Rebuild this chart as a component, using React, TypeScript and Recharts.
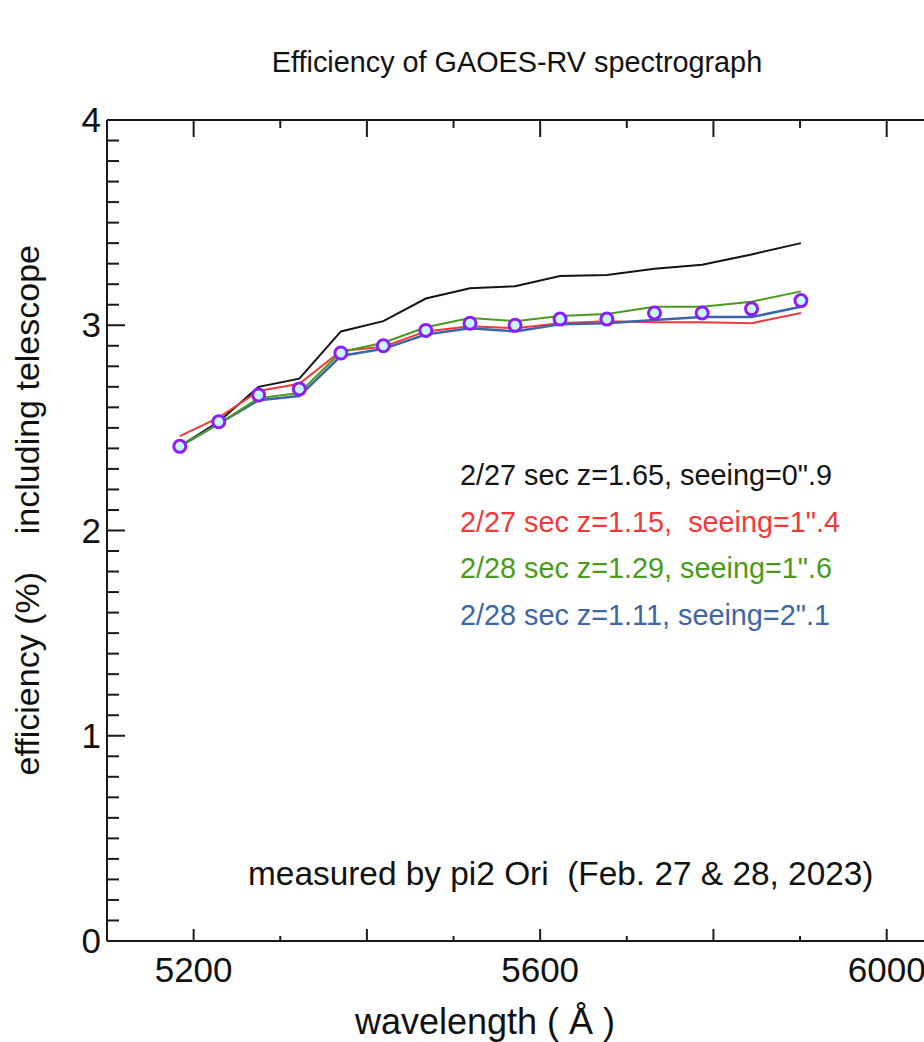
import React from "react";
import { LineChart, Line, XAxis, YAxis, Legend, Customized } from "recharts";

/* ── data ───────────────────────────────────────────────────────── */

const wavelength = [5184, 5229, 5275, 5322, 5370, 5419, 5468, 5519, 5571, 5623, 5677, 5732, 5787, 5844, 5901];

const effFeb27a = [2.41, 2.53, 2.7, 2.74, 2.97, 3.02, 3.13, 3.18, 3.19, 3.24, 3.245, 3.275, 3.295, 3.345, 3.4];
const effFeb27b = [2.46, 2.55, 2.68, 2.715, 2.875, 2.895, 2.97, 2.995, 2.985, 3.01, 3.02, 3.015, 3.015, 3.01, 3.06];
const effFeb28a = [2.41, 2.52, 2.645, 2.67, 2.87, 2.915, 2.99, 3.035, 3.02, 3.045, 3.055, 3.09, 3.09, 3.115, 3.165];
const effFeb28b = [2.41, 2.52, 2.635, 2.655, 2.85, 2.885, 2.955, 2.985, 2.97, 3.005, 3.01, 3.025, 3.04, 3.04, 3.09];
const effMean = [2.41, 2.53, 2.66, 2.69, 2.865, 2.9, 2.975, 3.01, 3.0, 3.03, 3.03, 3.06, 3.06, 3.08, 3.12];

const seriesNames = [
  "2/27 sec z=1.65, seeing=0\".9",
  "2/27 sec z=1.15,  seeing=1\".4",
  "2/28 sec z=1.29, seeing=1\".6",
  "2/28 sec z=1.11, seeing=2\".1",
];

const xTicks = [5200, 5300, 5400, 5500, 5600, 5700, 5800, 5900, 6000];
const xLabels = [5200, 5600, 6000];
const yTicks = Array.from({ length: 41 }, (_, i) => i / 10);

const data = wavelength.map((w, i) => ({
  w,
  a: effFeb27a[i],
  b: effFeb27b[i],
  c: effFeb28a[i],
  d: effFeb28b[i],
  mean: effMean[i],
}));

const FONT = '"Liberation Sans", Arial, Helvetica, sans-serif';
const AXIS = "#1a1a1a";

/* ── tick renderers (ticks point inward) ───────────────────────── */

function BottomTick({ x, y, payload }: any) {
  const major = payload.value % 200 === 0;
  return (
    <g>
      <line x1={x} y1={y} x2={x} y2={y - (major ? 12 : 5)} stroke={AXIS} strokeWidth={2} />
      {xLabels.includes(payload.value) && (
        <text x={x} y={y + 41} textAnchor="middle" fontSize={35} fontFamily={FONT} fill="#111">
          {payload.value}
        </text>
      )}
    </g>
  );
}

function TopTick({ x, y, payload }: any) {
  const major = payload.value % 200 === 0;
  return <line x1={x} y1={y} x2={x} y2={y + (major ? 17 : 8)} stroke={AXIS} strokeWidth={2} />;
}

function LeftTick({ x, y, payload }: any) {
  const major = Math.abs(payload.value - Math.round(payload.value)) < 1e-6;
  return (
    <g>
      <line x1={x} y1={y} x2={x + (major ? 18 : 12)} y2={y} stroke={AXIS} strokeWidth={2} />
      {major && (
        <text x={x - 6} y={y + 12} textAnchor="end" fontSize={35} fontFamily={FONT} fill="#111">
          {Math.round(payload.value)}
        </text>
      )}
    </g>
  );
}

function RightTick({ x, y, payload }: any) {
  const major = Math.abs(payload.value - Math.round(payload.value)) < 1e-6;
  return <line x1={x} y1={y} x2={x - (major ? 18 : 12)} y2={y} stroke={AXIS} strokeWidth={2} />;
}

/* ── legend: coloured text only ─────────────────────────────────── */

function TextLegend({ payload }: any) {
  const items = (payload || [])
    .filter((p: any) => seriesNames.includes(p.value))
    .sort((p: any, q: any) => seriesNames.indexOf(p.value) - seriesNames.indexOf(q.value));
  return (
    <div style={{ fontFamily: FONT, fontSize: 28.8 }}>
      {items.map((p: any) => (
        <div key={p.value} style={{ color: p.color, lineHeight: "46.7px", whiteSpace: "pre" }}>
          {p.value}
        </div>
      ))}
    </div>
  );
}

function Labels() {
  return (
    <g fontFamily={FONT} fill="#111">
      <text x={517} y={72} textAnchor="middle" fontSize={28.8}>
        Efficiency of GAOES-RV spectrograph
      </text>
      <text x={248} y={885} fontSize={33.4}>
        measured by pi2 Ori{"\u00a0\u00a0"}(Feb. 27 &amp; 28, 2023)
      </text>
      <text x={485} y={1034} textAnchor="middle" fontSize={36}>
        wavelength ( Å )
      </text>
      <text transform="translate(39,245) rotate(-90)" textAnchor="end" fontSize={34}>
        {"efficiency (%)\u00a0\u00a0\u00a0\u00a0including telescope"}
      </text>
    </g>
  );
}

export default function App() {
  return (
    <div style={{ position: "absolute", left: 0, top: 0, width: 924, height: 1042, overflow: "hidden", background: "#fff" }}>
      <LineChart width={960} height={1042} data={data} margin={{ top: 100, right: 20, bottom: 41, left: 0 }}>
        <XAxis
          xAxisId="bottom"
          dataKey="w"
          type="number"
          domain={[5100, 6050]}
          ticks={xTicks}
          interval={0}
          height={60}
          tickSize={0}
          tickMargin={0}
          tickLine={false}
          tick={<BottomTick />}
          axisLine={{ stroke: AXIS, strokeWidth: 2 }}
        />
        <XAxis
          xAxisId="top"
          orientation="top"
          dataKey="w"
          type="number"
          domain={[5100, 6050]}
          ticks={xTicks}
          interval={0}
          height={20}
          tickSize={0}
          tickMargin={0}
          tickLine={false}
          tick={<TopTick />}
          axisLine={{ stroke: AXIS, strokeWidth: 2 }}
        />
        <YAxis
          yAxisId="left"
          type="number"
          domain={[0, 4]}
          ticks={yTicks}
          interval={0}
          width={107}
          tickSize={0}
          tickMargin={0}
          tickLine={false}
          tick={<LeftTick />}
          axisLine={{ stroke: AXIS, strokeWidth: 2 }}
        />
        <YAxis
          yAxisId="right"
          orientation="right"
          type="number"
          domain={[0, 4]}
          ticks={yTicks}
          interval={0}
          width={10}
          tickSize={0}
          tickMargin={0}
          tickLine={false}
          tick={<RightTick />}
          axisLine={{ stroke: AXIS, strokeWidth: 2 }}
        />
        <Line xAxisId="bottom" yAxisId="left" type="linear" dataKey="a" name={seriesNames[0]} stroke="#141414" strokeWidth={2} dot={false} isAnimationActive={false} />
        <Line xAxisId="bottom" yAxisId="left" type="linear" dataKey="b" name={seriesNames[1]} stroke="#f03a3a" strokeWidth={2} dot={false} isAnimationActive={false} />
        <Line xAxisId="bottom" yAxisId="left" type="linear" dataKey="d" name={seriesNames[3]} stroke="#3d66a8" strokeWidth={2.5} dot={false} isAnimationActive={false} />
        <Line xAxisId="bottom" yAxisId="left" type="linear" dataKey="c" name={seriesNames[2]} stroke="#4b9a1e" strokeWidth={2} dot={false} isAnimationActive={false} />
        <Line
          xAxisId="bottom"
          yAxisId="left"
          type="linear"
          dataKey="mean"
          name="mean"
          stroke="none"
          legendType="none"
          dot={{ r: 6, fill: "#c6fbff", stroke: "#8d1cff", strokeWidth: 3 }}
          isAnimationActive={false}
        />
        <Legend
          layout="vertical"
          align="center"
          verticalAlign="middle"
          content={<TextLegend />}
          wrapperStyle={{ left: 460, top: 452, width: 440 }}
        />
        <Customized component={<Labels />} />
      </LineChart>
    </div>
  );
}
